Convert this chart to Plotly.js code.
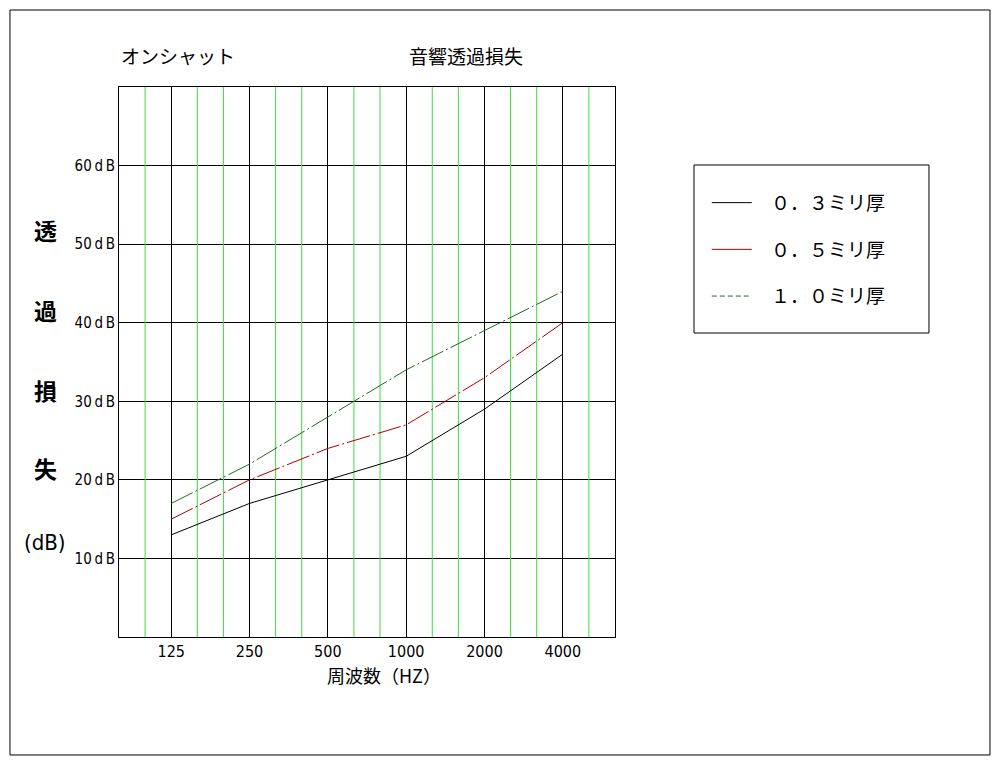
<!DOCTYPE html>
<html>
<head>
<meta charset="utf-8">
<script src="https://cdn.plot.ly/plotly-3.0.1.min.js"></script>
<style>
  html, body { margin: 0; padding: 0; background: #fff; }
  #chart { width: 1000px; height: 763px; }
</style>
</head>
<body>
<div id="chart"></div>
<script>
// Octave-band centre frequencies (Hz)
const freqs = [125, 250, 500, 1000, 2000, 4000];
const freqLabels = ['125', '250', '500', '1000', '2000', '4000'];

// Transmission loss (dB) for each sheet thickness
const loss03 = [13, 17, 20, 23, 29, 36];
const loss05 = [15, 20, 24, 27, 33, 40];
const loss10 = [17, 22, 28, 34, 39, 44];

const seriesNames = ['０．３ミリ厚', '０．５ミリ厚', '１．０ミリ厚'];
const seriesColors = ['#000000', '#b00000', '#1a701a'];

const yRange = [0, 70];
const yTickVals = [10, 20, 30, 40, 50, 60];
const yTickText = yTickVals.map(v => v + '\u2009d\u2009B');

// one-third-octave grid positions between the octave centres
const thirdOctaves = [];
for (let k = -1; k <= 16; k++) {
  if (k % 3 !== 0) thirdOctaves.push(freqs[0] * Math.pow(2, k / 3));
}

const narrow = '"Liberation Sans Narrow", "DejaVu Sans Condensed", "Arial Narrow", sans-serif';
const gothic = '"Noto Sans CJK JP", sans-serif';
const dashDot = '24px,3px,2px,3px';
const pad = '\u2002\u2005';

// vertical green grid at the one-third-octave positions, as one broken line
const gridX = [], gridY = [];
thirdOctaves.forEach(f => { gridX.push(f, f, null); gridY.push(yRange[0], yRange[1], null); });

const traces = [
  { x: gridX, y: gridY, mode: 'lines', showlegend: false, hoverinfo: 'skip',
    line: { color: '#3cdc3c', width: 1 } },
  // curves on the graph
  { x: freqs, y: loss03, showlegend: false, mode: 'lines',
    line: { color: seriesColors[0], width: 1 } },
  { x: freqs, y: loss05, showlegend: false, mode: 'lines',
    line: { color: seriesColors[1], width: 1, dash: dashDot } },
  { x: freqs, y: loss10, showlegend: false, mode: 'lines',
    line: { color: seriesColors[2], width: 1, dash: dashDot } },
  // key entries
  { x: [null], y: [null], name: pad + seriesNames[0], legendgroup: 'a', mode: 'lines',
    line: { color: seriesColors[0], width: 1 } },
  { x: [null], y: [null], name: pad + seriesNames[1], legendgroup: 'b', mode: 'lines',
    line: { color: seriesColors[1], width: 1 } },
  { x: [null], y: [null], name: pad + seriesNames[2], legendgroup: 'c', mode: 'lines',
    line: { color: seriesColors[2], width: 1, dash: '5px,3px' } }
];

const oct = Math.log10(2);
const xLo = Math.log10(freqs[0]) - 2 / 3 * oct;
const xHi = Math.log10(freqs[freqs.length - 1]) + 2 / 3 * oct;

function yLabel(txt, y, family) {
  return { text: txt, xref: 'paper', yref: 'paper', x: -0.149, y: y,
           xanchor: 'center', yanchor: 'middle', showarrow: false,
           font: { family: family, size: family === gothic ? 23 : 22, color: '#000' } };
}

const layout = {
  width: 1000, height: 763,
  margin: { l: 119, r: 385, t: 87, b: 126 },
  paper_bgcolor: '#ffffff', plot_bgcolor: '#ffffff',
  showlegend: true,
  legend: {
    x: 1.185, y: 0.824, xanchor: 'left', yanchor: 'top',
    bgcolor: 'rgba(0,0,0,0)', borderwidth: 0,
    traceorder: 'grouped', tracegroupgap: 19,
    itemwidth: 40,
    font: { family: gothic, size: 19, color: '#000' }
  },
  xaxis: {
    type: 'log', range: [xLo, xHi],
    tickmode: 'array', tickvals: freqs, ticktext: freqLabels,
    ticks: '', showgrid: true, gridcolor: '#000', gridwidth: 1,
    showline: true, linecolor: '#000', linewidth: 1, mirror: true,
    zeroline: false,
    tickfont: { family: narrow, size: 16, color: '#000' }
  },
  yaxis: {
    range: yRange, tickmode: 'array', tickvals: yTickVals, ticktext: yTickText,
    ticks: '', showgrid: true, gridcolor: '#000', gridwidth: 1,
    showline: true, linecolor: '#000', linewidth: 1, mirror: true,
    zeroline: false,
    tickfont: { family: narrow, size: 15, color: '#000' }
  },
  shapes: [
    // outer frame
    { type: 'rect', xref: 'paper', yref: 'paper',
      x0: -0.2198, x1: 1.756, y0: -0.2145, y1: 1.14,
      line: { color: '#000', width: 1 } },
    // key box
    { type: 'rect', xref: 'paper', yref: 'paper',
      x0: 1.1593, x1: 1.633, y0: 0.5527, y1: 0.8582,
      line: { color: '#000', width: 1 } }
  ],
  annotations: [
    { text: 'オンシャット', xref: 'paper', yref: 'paper', x: 0, y: 1.0564,
      xanchor: 'left', yanchor: 'middle', showarrow: false,
      font: { family: gothic, size: 19, color: '#000' } },
    { text: '音響透過損失', xref: 'paper', yref: 'paper', x: 0.5806, y: 1.0564,
      xanchor: 'left', yanchor: 'middle', showarrow: false,
      font: { family: gothic, size: 19, color: '#000' } },
    { text: '周波数（HZ）', xref: 'paper', yref: 'paper', x: 0.534, y: -0.069,
      xanchor: 'center', yanchor: 'middle', showarrow: false,
      font: { family: gothic, size: 18, color: '#000' } },
    yLabel('<b>透</b>', 0.74, gothic),
    yLabel('<b>過</b>', 0.5945, gothic),
    yLabel('<b>損</b>', 0.449, gothic),
    yLabel('<b>失</b>', 0.307, gothic),
    yLabel('(dB)', 0.171, narrow)
  ]
};

Plotly.newPlot('chart', traces, layout, { displayModeBar: false, staticPlot: true });
</script>
</body>
</html>
